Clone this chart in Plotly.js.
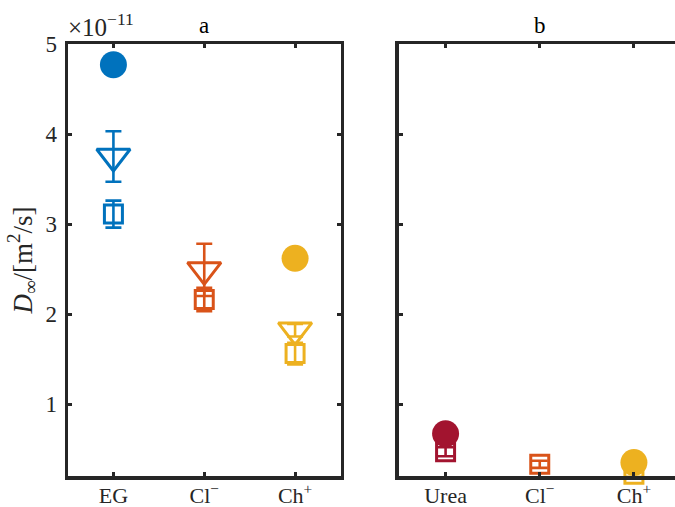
<!DOCTYPE html>
<html>
<head>
<meta charset="utf-8">
<script src="https://cdn.plot.ly/plotly-3.0.1.min.js"></script>
<style>
  html, body { margin: 0; padding: 0; overflow: hidden; background: #fff; }
  #chart { width: 690px; height: 507px; }
</style>
</head>
<body>
<div id="chart"></div>
<script>
// Diffusion coefficients D_inf in units of 1e-11 m^2/s

// Panel a
const catsA = ['EG', 'Cl-', 'Ch+'];
const labelsA = ['EG', 'Cl<sup>−</sup>', 'Ch<sup>+</sup>'];
const circleA = [4.77, null, 2.62];
const triA = [3.75, 2.49, 1.82];
const triErrA = [0.28, 0.29, 0.07];
const sqA = [3.11, 2.16, 1.56];
const sqErrA = [0.15, 0.13, 0.12];

// Panel b
const catsB = ['Urea', 'Cl-', 'Ch+'];
const labelsB = ['Urea', 'Cl<sup>−</sup>', 'Ch<sup>+</sup>'];
const circleB = [0.67, null, 0.35];
const sqB = [0.47, 0.33, 0.22];
const sqErrB = [0.05, 0.04, 0.03];

const yTicks = [1, 2, 3, 4, 5];
const colorsA = ['#0072BD', '#D95319', '#EDB120'];
const colorsB = ['#A2142F', '#D95319', '#EDB120'];

const axisColor = '#262626';
const FONT = 'Liberation Serif, DejaVu Serif, serif';
const FS = 23;

const traces = [];

function addPanel(cats, colors, circ, tri, triErr, sq, sqErr, xa, ya) {
  cats.forEach((c, i) => {
    if (sq && sq[i] != null) {
      traces.push({
        type: 'scatter', mode: 'markers', x: [c], y: [sq[i]], xaxis: xa, yaxis: ya,
        cliponaxis: false, showlegend: false, hoverinfo: 'skip',
        marker: { symbol: 'square-open', size: 18, color: colors[i], line: { width: 3, color: colors[i] } },
        error_y: { type: 'data', array: [sqErr[i]], visible: true, color: colors[i], thickness: 2.6, width: 8 }
      });
    }
    if (tri && tri[i] != null) {
      traces.push({
        type: 'scatter', mode: 'markers', x: [c], y: [tri[i]], xaxis: xa, yaxis: ya,
        cliponaxis: false, showlegend: false, hoverinfo: 'skip',
        marker: { symbol: 'triangle-down-open', size: 29, color: colors[i], line: { width: 3, color: colors[i] } },
        error_y: { type: 'data', array: [triErr[i]], visible: true, color: colors[i], thickness: 2.6, width: 8 }
      });
    }
    if (circ && circ[i] != null) {
      traces.push({
        type: 'scatter', mode: 'markers', x: [c], y: [circ[i]], xaxis: xa, yaxis: ya,
        cliponaxis: false, showlegend: false, hoverinfo: 'skip',
        marker: { symbol: 'circle', size: 27, color: colors[i], line: { width: 0 } }
      });
    }
  });
}

addPanel(catsA, colorsA, circleA, triA, triErrA, sqA, sqErrA, 'x', 'y');
addPanel(catsB, colorsB, circleB, null, null, sqB, sqErrB, 'x2', 'y2');

const common = {
  showline: true, linecolor: axisColor, linewidth: 3.5, mirror: 'allticks',
  ticks: 'inside', ticklen: 4, tickwidth: 3, tickcolor: axisColor,
  showgrid: false, zeroline: false,
  tickfont: { family: FONT, size: FS, color: axisColor }
};
const xTickFont = { family: FONT, size: 22, color: axisColor };

// plot area in pixels: left 68 .. 681, top 44 .. 476
const L = 68, R = 681, T = 44, B = 476;
const W = 690, H = 507;
const px = v => (v - L) / (R - L);
const py = v => (B - v) / (B - T);

const layout = {
  width: W, height: H,
  margin: { l: L, r: W - R, t: T, b: H - B },
  paper_bgcolor: '#fff', plot_bgcolor: '#fff',
  showlegend: false,
  xaxis: Object.assign({}, common, {
    domain: [0, px(340.5)], type: 'category', categoryorder: 'array', categoryarray: catsA,
    range: [-0.5, 2.5], tickmode: 'array', tickvals: catsA, ticktext: labelsA, tickfont: xTickFont,
    ticklabelstandoff: -3
  }),
  xaxis2: Object.assign({}, common, {
    domain: [px(398.5), 1], anchor: 'y2', type: 'category', categoryorder: 'array', categoryarray: catsB,
    range: [-0.5, 2.5], tickmode: 'array', tickvals: catsB, ticktext: labelsB, tickfont: xTickFont,
    ticklabelstandoff: -3
  }),
  yaxis: Object.assign({}, common, {
    range: [0.2, 5], tickmode: 'array', tickvals: yTicks, ticktext: yTicks.map(String),
    ticklabelstandoff: 3,
    title: { text: '<i>D</i><sub>∞</sub>/[m<sup>2</sup>/s]', font: { family: FONT, size: 27, color: axisColor }, standoff: 6 }
  }),
  yaxis2: Object.assign({}, common, {
    anchor: 'x2', range: [0.2, 5], tickmode: 'array', tickvals: yTicks, showticklabels: false
  }),
  annotations: [
    { xref: 'paper', yref: 'paper', x: px(66), y: py(25), xanchor: 'left', yanchor: 'middle',
      text: '×10<sup>−11</sup>', showarrow: false, font: { family: FONT, size: 25, color: axisColor } },
    { xref: 'paper', yref: 'paper', x: px(204), y: py(25), xanchor: 'center', yanchor: 'middle',
      text: 'a', showarrow: false, font: { family: FONT, size: FS, color: '#000' } },
    { xref: 'paper', yref: 'paper', x: px(540), y: py(25), xanchor: 'center', yanchor: 'middle',
      text: 'b', showarrow: false, font: { family: FONT, size: FS, color: '#000' } }
  ]
};

Plotly.newPlot('chart', traces, layout, { staticPlot: true, displayModeBar: false });
</script>
</body>
</html>
